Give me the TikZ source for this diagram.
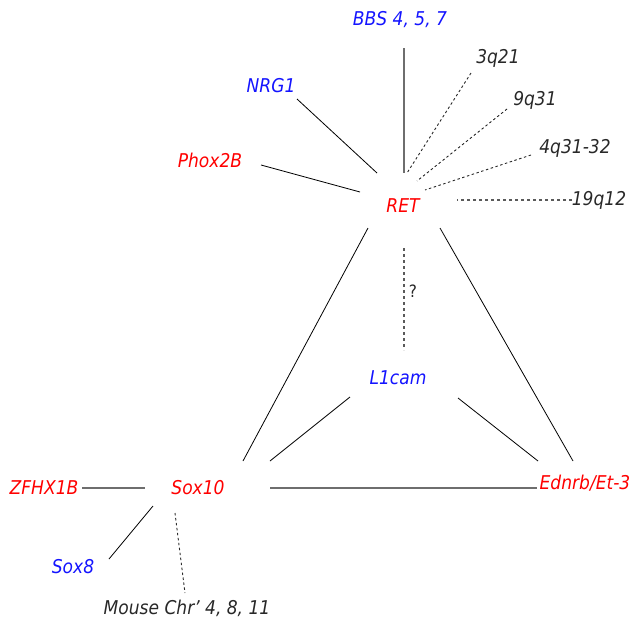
\documentclass[tikz,border=0pt]{standalone}
\usepackage{fontspec}
\setmainfont{DejaVu Sans Condensed}
\begin{document}
\begin{tikzpicture}[x=1pt,y=-1pt,
  lbl/.style={font=\fontsize{19}{22}\selectfont\itshape, inner sep=0pt},
  redt/.style={lbl,text={rgb,255:red,255;green,0;blue,0}},
  bluet/.style={lbl,text={rgb,255:red,20;green,20;blue,255}},
  grayt/.style={lbl,text={rgb,255:red,40;green,40;blue,40}},
  thinln/.style={draw=black,line width=0.8pt},
  grayln/.style={draw={rgb,255:red,110;green,110;blue,110},line width=1.4pt},
  dotln/.style={draw={rgb,255:red,40;green,40;blue,40},line width=0.9pt,dash pattern=on 2.5pt off 2.5pt},
  gdotln/.style={draw={rgb,255:red,90;green,90;blue,90},line width=1.1pt,dash pattern=on 3pt off 3pt}]
\useasboundingbox (0,0) rectangle (632,619);
\node[bluet] (bbs) at (400,20) {BBS 4, 5, 7};
\node[grayt] (q3) at (498,58) {3q21};
\node[grayt] (q9) at (535,100) {9q31};
\node[grayt] (q4) at (575,148) {4q31-32};
\node[grayt] (q19) at (599,200) {19q12};
\node[bluet] (nrg) at (271,86) {NRG1};
\node[redt] (phox) at (210,160) {Phox2B};
\node[redt] (ret) at (403,206) {RET};
\node[bluet] (l1) at (398,378) {L1cam};
\node[grayt,font=\fontsize{17}{20}\selectfont] (qm) at (413,291) {?};
\node[redt] (sox10) at (198,488) {Sox10};
\node[redt] (ednrb) at (585,483) {Ednrb/Et-3};
\node[redt] (zfh) at (44,488) {ZFHX1B};
\node[bluet] (sox8) at (73,567) {Sox8};
\node[grayt] (mouse) at (187,608) {Mouse Chr' 4, 8, 11};

\draw[grayln] ([shift={(4,28)}]bbs.center) -- ([shift={(1,-33)}]ret.center);
\draw[dotln] ([shift={(-27,15)}]q3.center) -- ([shift={(4,-33)}]ret.center);
\draw[dotln] ([shift={(-28,9)}]q9.center) -- ([shift={(14,-25)}]ret.center);
\draw[dotln] ([shift={(-44,7)}]q4.center) -- ([shift={(22,-16)}]ret.center);
\draw[gdotln] ([shift={(-27,0)}]q19.center) -- ([shift={(54,-6)}]ret.center);
\draw[thinln] ([shift={(26,13)}]nrg.center) -- ([shift={(-26,-33)}]ret.center);
\draw[thinln] ([shift={(51,5)}]phox.center) -- ([shift={(-43,-14)}]ret.center);
\draw[gdotln] ([shift={(1,42)}]ret.center) -- ([shift={(6,-28)}]l1.center);
\draw[thinln] ([shift={(-35,22)}]ret.center) -- ([shift={(45,-27)}]sox10.center);
\draw[thinln] ([shift={(37,22)}]ret.center) -- ([shift={(-12,-22)}]ednrb.center);
\draw[thinln] ([shift={(-48,19)}]l1.center) -- ([shift={(72,-27)}]sox10.center);
\draw[thinln] ([shift={(60,20)}]l1.center) -- ([shift={(-47,-22)}]ednrb.center);
\draw[grayln] ([shift={(72,0)}]sox10.center) -- ([shift={(-48,5)}]ednrb.center);
\draw[grayln] ([shift={(38,0)}]zfh.center) -- ([shift={(-53,0)}]sox10.center);
\draw[thinln] ([shift={(-45,18)}]sox10.center) -- ([shift={(36,-8)}]sox8.center);
\draw[dotln] ([shift={(-23,25)}]sox10.center) -- ([shift={(-2,-15)}]mouse.center);
\end{tikzpicture}
\end{document}
